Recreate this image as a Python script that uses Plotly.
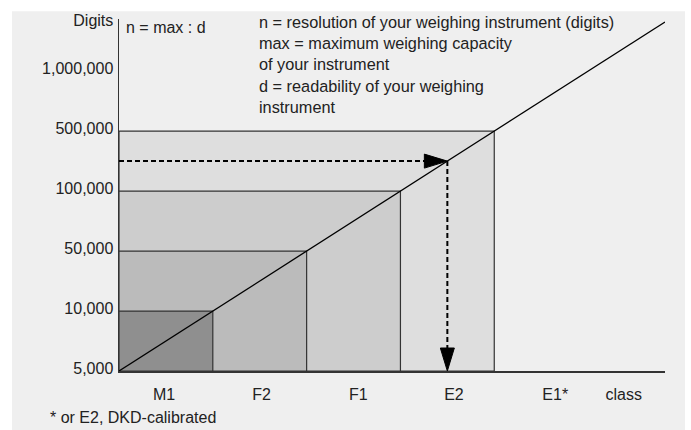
import plotly.graph_objects as go

# ---- data ----
level_labels = ["5,000", "10,000", "50,000", "100,000", "500,000", "1,000,000"]
level_positions = [0, 1, 2, 3, 4, 5]
axis_title_label = "Digits"
axis_title_position = 5.79

class_labels = ["M1", "F2", "F1", "E2", "E1*", "class"]
class_label_positions = [0.48, 1.52, 2.55, 3.57, 4.65, 5.38]

# accuracy classes: upper class boundary and the resolution level reached
box_class_limit = [4, 3, 2, 1]          # E2, F1, F2, M1
box_level_limit = [4, 3, 2, 1]          # 500,000 / 100,000 / 50,000 / 10,000
box_fill = ["#dedede", "#cdcdcd", "#bbbbbb", "#8f8f8f"]

diagonal_x = [0, 5.82]
diagonal_y = [0, 5.82]

example_level = 3.5   # example resolution (~250,000 digits)

x_range = [0, 5.82]
y_range = [0, 5.87]

FONT = "Liberation Sans, Arial, sans-serif"
TXT = "#222222"
FS = 16

fig = go.Figure()

shapes = []
# gray panel background (paper coords)
shapes.append(dict(type="rect", xref="paper", yref="paper",
                   x0=-0.196, x1=1.0366, y0=-0.2, y1=1.0223,
                   fillcolor="#efefef", line=dict(width=0), layer="below"))

for cx, ly, col in zip(box_class_limit, box_level_limit, box_fill):
    shapes.append(dict(type="rect", xref="x", yref="y", x0=0, x1=cx, y0=0, y1=ly,
                       fillcolor=col, line=dict(color="#333333", width=1.2),
                       layer="below"))

# arrowheads (pixel-sized, anchored at data points)
shapes.append(dict(type="path", xref="x", yref="y", xsizemode="pixel", ysizemode="pixel",
                   xanchor=example_level, yanchor=example_level,
                   path="M-23,-7 L0,0 L-23,7 Z", fillcolor="black",
                   line=dict(color="black", width=1), layer="above"))
shapes.append(dict(type="path", xref="x", yref="y", xsizemode="pixel", ysizemode="pixel",
                   xanchor=example_level, yanchor=0,
                   path="M-7,23 L0,0 L7,23 Z", fillcolor="black",
                   line=dict(color="black", width=1), layer="above"))

# diagonal
fig.add_trace(go.Scatter(x=diagonal_x, y=diagonal_y, mode="lines",
                         line=dict(color="black", width=1.3), hoverinfo="skip",
                         showlegend=False, cliponaxis=False))
# dashed example lines
fig.add_trace(go.Scatter(x=[0, example_level - 0.1], y=[example_level, example_level],
                         mode="lines", line=dict(color="black", width=2, dash="5px,3px"),
                         hoverinfo="skip", showlegend=False))
fig.add_trace(go.Scatter(x=[example_level, example_level], y=[example_level, 0.2],
                         mode="lines", line=dict(color="black", width=2, dash="5px,3px"),
                         hoverinfo="skip", showlegend=False))

annotations = [
    dict(text="n = max : d", xref="paper", yref="paper", x=(124 - 119) / 546, y=(371 - 22) / 358,
         xanchor="left", yanchor="middle", showarrow=False,
         font=dict(family=FONT, size=FS, color=TXT)),
    dict(text="n = resolution of your weighing instrument (digits)<br>"
              "max = maximum weighing capacity<br>"
              "of your instrument<br>"
              "d = readability of your weighing<br>"
              "instrument",
         xref="paper", yref="paper", x=(257 - 119) / 546, y=(371 - 5) / 358,
         xanchor="left", yanchor="top", align="left", showarrow=False,
         font=dict(family=FONT, size=16.3, color=TXT)),
    dict(text="* or E2, DKD-calibrated", xref="paper", yref="paper",
         x=(48 - 119) / 546, y=(371 - 418) / 358, xanchor="left", yanchor="middle",
         showarrow=False, font=dict(family=FONT, size=FS, color=TXT)),
]

fig.update_layout(
    width=691, height=430,
    margin=dict(l=119, r=26, t=13, b=59),
    paper_bgcolor="white",
    plot_bgcolor="rgba(0,0,0,0)",
    shapes=shapes,
    annotations=annotations,
    showlegend=False,
    font=dict(family=FONT, size=FS, color=TXT),
    xaxis=dict(range=x_range, showgrid=False, zeroline=False, showline=True,
               linecolor="#333333", linewidth=2, ticks="",
               tickvals=class_label_positions, ticktext=class_labels,
               ticklabelstandoff=8, tickfont=dict(family=FONT, size=FS, color=TXT),
               fixedrange=True),
    yaxis=dict(range=y_range, showgrid=False, zeroline=False, showline=True,
               linecolor="#333333", linewidth=1.5, ticks="",
               tickvals=level_positions + [axis_title_position],
               ticktext=level_labels + [axis_title_label],
               ticklabelstandoff=1, ticklabelshift=-3,
               tickfont=dict(family=FONT, size=FS, color=TXT),
               fixedrange=True),
)

fig.write_html("out.html",
               config={"displayModeBar": False, "staticPlot": True},
               post_script="document.body.style.margin='0';document.body.style.padding='0';")
